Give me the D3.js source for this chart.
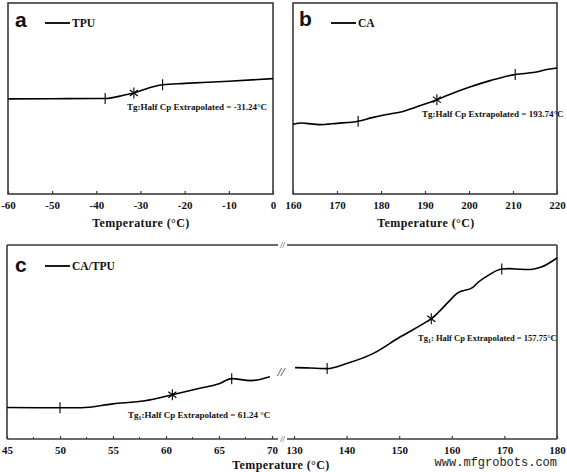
<!DOCTYPE html>
<html>
<head>
<meta charset="utf-8">
<script src="https://cdn.jsdelivr.net/npm/d3@7"></script>
<style>
  body { margin: 0; background: #fff; }
</style>
</head>
<body>
<script>
// DSC traces, heat flow in arbitrary units (0..100 over plot height)
var tpuTemp = [-60, -50, -40, -38, -36, -34, -32, -31.5, -30, -28, -26, -25, -20, -10, 0];
var tpuHeat = [49.8, 49.9, 50.0, 50.0, 50.6, 51.6, 52.6, 52.9, 54.0, 55.6, 56.8, 57.2, 57.9, 59.0, 60.4];
var tpuMarkTemp = [-38, -31.5, -25];
var tpuMarkHeat = [50.0, 52.9, 57.2];
var tpuMarkType = ['tick', 'star', 'tick'];

var caTemp = [160, 162, 163, 166, 170, 174.8, 178, 181, 185, 188, 192.7, 195, 200, 205, 210.5, 215, 218, 220];
var caHeat = [36.5, 37.2, 37.0, 36.3, 37.0, 38.1, 40.0, 41.5, 43.2, 45.6, 49.4, 51.6, 55.9, 59.5, 62.6, 63.7, 65.3, 66.0];
var caMarkTemp = [174.8, 192.7, 210.5];
var caMarkHeat = [38.1, 49.4, 62.6];
var caMarkType = ['tick', 'star', 'tick'];

var blendLowTemp = [45, 50, 52, 55, 58, 60.6, 63, 65, 66.2, 68, 69.8];
var blendLowHeat = [16.2, 16.1, 16.1, 18.1, 19.7, 22.8, 25.9, 28.5, 31.1, 30.1, 32.1];
var blendLowMarkTemp = [50, 60.6, 66.2];
var blendLowMarkHeat = [16.1, 22.8, 31.1];

var blendHighTemp = [130.2, 133, 136.3, 140, 145, 150, 155, 156.1, 160, 161, 164, 165, 167, 169.5, 171, 173, 175, 177, 180];
var blendHighHeat = [36.8, 36.6, 36.3, 38.9, 44.0, 52.3, 60.1, 62.0, 72.5, 75.1, 78.2, 80.8, 84.5, 87.6, 87.8, 87.5, 87.4, 88.6, 93.3];
var blendHighMarkTemp = [136.3, 156.1, 169.5];
var blendHighMarkHeat = [36.3, 62.0, 87.6];

var tpuTicks = [-60, -50, -40, -30, -20, -10, 0];
var caTicks = [160, 170, 180, 190, 200, 210, 220];
var blendLowTicks = [45, 50, 55, 60, 65, 70];
var blendHighTicks = [130, 140, 150, 160, 170, 180];

var W = 567, H = 472;
var serif = '"Liberation Serif", "Times New Roman", serif';
var sans = '"Liberation Sans", Arial, sans-serif';
var frameColor = '#3a3a3a';

var svg = d3.select('body').append('svg')
    .attr('width', W)
    .attr('height', H);

function zip(xs, ys) {
    return xs.map(function (x, i) { return [x, ys[i]]; });
}

function label(g, x0, y0, size, str) {
    return g.append('text')
        .attr('x', x0).attr('y', y0)
        .style('font-family', serif)
        .style('font-weight', 'bold')
        .style('font-size', size + 'px')
        .style('fill', '#111')
        .text(str);
}

function drawCurve(g, x, y, xs, ys) {
    var line = d3.line()
        .x(function (d) { return x(d[0]); })
        .y(function (d) { return y(d[1]); })
        .curve(d3.curveMonotoneX);
    g.append('path')
        .attr('d', line(zip(xs, ys)))
        .attr('fill', 'none')
        .attr('stroke', '#000')
        .attr('stroke-width', 1.6);
}

function drawMarks(g, x, y, xs, ys, types) {
    xs.forEach(function (t, i) {
        var cx = x(t), cy = y(ys[i]);
        g.append('line')
            .attr('x1', cx).attr('x2', cx)
            .attr('y1', cy - 5.5).attr('y2', cy + 5.5)
            .attr('stroke', '#000').attr('stroke-width', 1.1);
        if (types[i] === 'star') {
            [[-4, -3], [4, -3]].forEach(function (v) {
                g.append('line')
                    .attr('x1', cx + v[0]).attr('y1', cy + v[1])
                    .attr('x2', cx - v[0]).attr('y2', cy - v[1])
                    .attr('stroke', '#000').attr('stroke-width', 1.1);
            });
        }
    });
}

function bottomAxis(g, x, ticks, y0, minor) {
    var ax = d3.axisBottom(x)
        .tickValues(ticks)
        .tickSize(-3)
        .tickPadding(7)
        .tickFormat(function (d) { return String(d); });
    var a = g.append('g')
        .attr('transform', 'translate(0,' + y0 + ')')
        .call(ax);
    a.select('.domain').remove();
    a.selectAll('.tick line').attr('stroke', frameColor).attr('stroke-width', 1.2);
    a.selectAll('.tick text')
        .style('font-family', serif)
        .style('font-weight', 'bold')
        .style('font-size', '11px')
        .style('fill', '#111');
    if (minor) {
        g.selectAll(null).data(minor).enter().append('line')
            .attr('x1', function (d) { return x(d); })
            .attr('x2', function (d) { return x(d); })
            .attr('y1', y0).attr('y2', y0 - 2)
            .attr('stroke', frameColor).attr('stroke-width', 1);
    }
}

function frame(g, x0, x1, y0, y1) {
    g.append('rect')
        .attr('x', x0).attr('y', y0)
        .attr('width', x1 - x0).attr('height', y1 - y0)
        .attr('fill', 'none')
        .attr('stroke', frameColor)
        .attr('stroke-width', 1.6);
}

function legend(g, x0, y0, str) {
    g.append('line')
        .attr('x1', x0).attr('x2', x0 + 25)
        .attr('y1', y0).attr('y2', y0)
        .attr('stroke', '#000').attr('stroke-width', 1.8);
    label(g, x0 + 27, y0 + 4, 11.5, str);
}

function letter(g, x0, y0, str) {
    g.append('text')
        .attr('x', x0).attr('y', y0)
        .style('font-family', sans)
        .style('font-weight', 'bold')
        .style('font-size', '21px')
        .style('fill', '#111')
        .text(str);
}

// note with optional subscript "1" after "Tg"
function note(g, x0, y0, size, head, sub, rest) {
    var t = label(g, x0, y0, size, null);
    t.append('tspan').text(head);
    if (sub) {
        t.append('tspan').text(sub).style('font-size', '6px').attr('dy', 2);
        t.append('tspan').text(rest).attr('dy', -2);
    }
}

function title(g, cx, cy) {
    label(g, cx, cy, 12, 'Temperature (°C)')
        .attr('text-anchor', 'middle')
        .style('letter-spacing', '0.4px');
}

function breakMark(g, x0, y0, size) {
    g.append('text')
        .attr('x', x0).attr('y', y0)
        .attr('text-anchor', 'middle')
        .style('font-family', serif)
        .style('font-style', 'italic')
        .style('font-size', size + 'px')
        .style('fill', '#222')
        .text('//');
}

// ---- panel a: TPU
var ga = svg.append('g');
var xa = d3.scaleLinear().domain([-60, 0]).range([8, 273]);
var ya = d3.scaleLinear().domain([0, 100]).range([194, 3]);
frame(ga, 8, 273, 3, 194);
bottomAxis(ga, xa, tpuTicks, 194);
drawCurve(ga, xa, ya, tpuTemp, tpuHeat);
drawMarks(ga, xa, ya, tpuMarkTemp, tpuMarkHeat, tpuMarkType);
letter(ga, 15, 27, 'a');
legend(ga, 45, 23, 'TPU');
note(ga, 127, 110, 9, 'Tg:Half Cp Extrapolated = -31.24°C');
title(ga, 141, 227);

// ---- panel b: CA
var gb = svg.append('g');
var xb = d3.scaleLinear().domain([160, 220]).range([293, 557]);
var yb = d3.scaleLinear().domain([0, 100]).range([194, 3]);
frame(gb, 293, 557, 3, 194);
bottomAxis(gb, xb, caTicks, 194);
drawCurve(gb, xb, yb, caTemp, caHeat);
drawMarks(gb, xb, yb, caMarkTemp, caMarkHeat, caMarkType);
letter(gb, 299, 26, 'b');
legend(gb, 331, 23, 'CA');
note(gb, 422, 117, 9, 'Tg:Half Cp Extrapolated = 193.74°C');
title(gb, 426, 227);

// ---- panel c: CA/TPU with broken axis
var gc = svg.append('g');
var xcl = d3.scaleLinear().domain([45, 70]).range([7, 272]);
var xch = d3.scaleLinear().domain([130, 180]).range([294, 557]);
var yc = d3.scaleLinear().domain([0, 100]).range([439, 245]);

[245, 439].forEach(function (yy) {
    gc.append('line').attr('x1', 7).attr('x2', 278).attr('y1', yy).attr('y2', yy)
        .attr('stroke', frameColor).attr('stroke-width', 1.6);
    gc.append('line').attr('x1', 287).attr('x2', 557).attr('y1', yy).attr('y2', yy)
        .attr('stroke', frameColor).attr('stroke-width', 1.6);
    breakMark(gc, 282.5, yy + 3, 8);
});
gc.append('line').attr('x1', 7).attr('x2', 7).attr('y1', 245).attr('y2', 439)
    .attr('stroke', frameColor).attr('stroke-width', 1.6);
gc.append('line').attr('x1', 557).attr('x2', 557).attr('y1', 245).attr('y2', 439)
    .attr('stroke', frameColor).attr('stroke-width', 1.6);

bottomAxis(gc, xcl, blendLowTicks, 439, [47.5, 52.5, 57.5, 62.5, 67.5]);
bottomAxis(gc, xch, blendHighTicks, 439);
drawCurve(gc, xcl, yc, blendLowTemp, blendLowHeat);
drawCurve(gc, xch, yc, blendHighTemp, blendHighHeat);
drawMarks(gc, xcl, yc, blendLowMarkTemp, blendLowMarkHeat, ['tick', 'star', 'tick']);
drawMarks(gc, xch, yc, blendHighMarkTemp, blendHighMarkHeat, ['tick', 'star', 'tick']);
breakMark(gc, 281, 376, 13);

letter(gc, 15, 272, 'c');
legend(gc, 45, 266, 'CA/TPU');
note(gc, 128, 418, 9, 'Tg', '1', ':Half Cp Extrapolated = 61.24 °C');
note(gc, 418, 341, 8.5, 'Tg', '1', ': Half Cp Extrapolated = 157.75°C');
title(gc, 281, 469);

// watermark
svg.append('text')
    .attr('x', 557).attr('y', 466)
    .attr('text-anchor', 'end')
    .style('font-family', '"Liberation Mono", "Courier New", monospace')
    .style('font-size', '12px')
    .style('fill', '#222')
    .text('www.mfgrobots.com');
</script>
</body>
</html>
